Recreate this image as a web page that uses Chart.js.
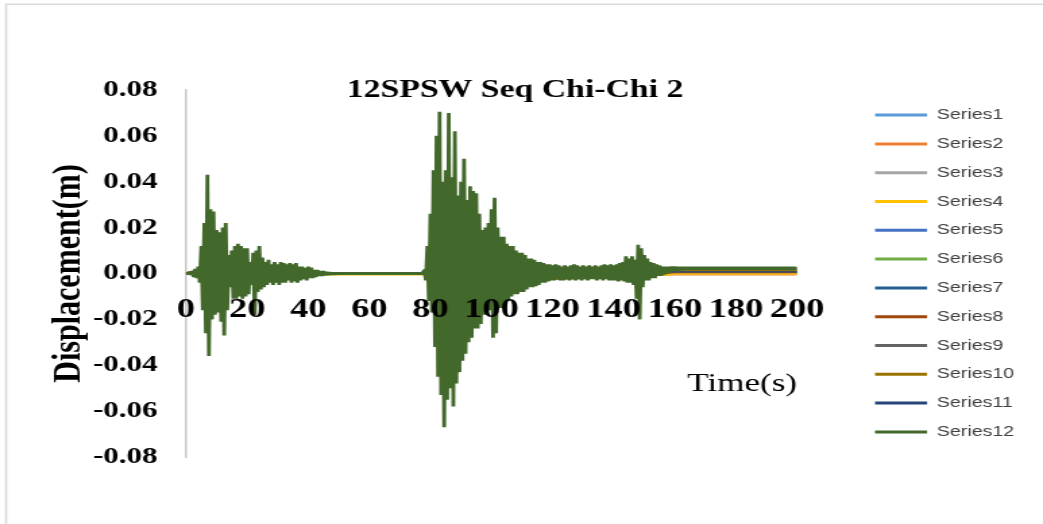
<!DOCTYPE html>
<html>
<head>
<meta charset="utf-8">
<script src="https://cdn.jsdelivr.net/npm/chart.js@4.4.1/dist/chart.umd.min.js"></script>
<style>
html, body { margin: 0; padding: 0; background: #ffffff; overflow: hidden; }
</style>
</head>
<body>
<canvas id="chart" width="773" height="524" style="width:1043px;height:524px;display:block"></canvas>
<script>
// ---------------- data ----------------
const chartTitle = '12SPSW Seq Chi-Chi 2';
const xTitle = 'Time(s)';
const yTitle = 'Displacement(m)';

const seriesNames = ['Series1','Series2','Series3','Series4','Series5','Series6',
                     'Series7','Series8','Series9','Series10','Series11','Series12'];
const seriesColors = ['#5B9BD5','#ED7D31','#A5A5A5','#FFC000','#4472C4','#70AD47',
                      '#255E91','#9E480E','#636363','#997300','#264478','#43682B'];

const xTicks = { min: 0, max: 200, step: 20 };
const yTicks = { min: -0.08, max: 0.08, step: 0.02 };

// Series12 (top floor) – displacement peaks every 0.5 s
const timeStep12 = 0.5;
const disp12 = [
  // 0 - 4.5 s
  0, 0, 0.0005, -0.0005, 0.001, -0.0015, 0.002, -0.002, 0.003, -0.004,
  // 5 - 9.5 s
  0.012, -0.016, 0.022, -0.026, 0.043, -0.036, 0.028, -0.020, 0.027, -0.018,
  // 10 - 14.5 s
  0.019, -0.017, 0.018, -0.021, 0.020, -0.027, 0.022, -0.016, 0.008, -0.006,
  // 15 - 19.5 s
  0.010, -0.011, 0.012, -0.011, 0.013, -0.010, 0.012, -0.011, 0.011, -0.010,
  // 20 - 24.5 s
  0.011, -0.009, 0.005, -0.005, 0.009, -0.018, 0.010, -0.008, 0.012, -0.007,
  // 25 - 29.5 s
  0.007, -0.006, 0.005, -0.005, 0.006, -0.004, 0.004, -0.005, 0.005, -0.004,
  // 30 - 34.5 s
  0.004, -0.005, 0.005, -0.004, 0.0045, -0.004, 0.004, -0.003, 0.0045, -0.004,
  // 35 - 39.5 s
  0.004, -0.0035, 0.0045, -0.004, 0.003, -0.003, 0.003, -0.0025, 0.0025, -0.003,
  // 40 - 44.5 s
  0.003, -0.002, 0.0025, -0.002, 0.0015, -0.0015, 0.0015, -0.001, 0.001, -0.001,
  // 45 - 49.5 s
  0.001, -0.0008, 0.0007, -0.0006, 0.0005, -0.0004, 0.0003, -0.0003, 0.0002, -0.0002,
  // 50 - 74.5 s (at rest)
  0, 0, 0, 0, 0, 0, 0, 0, 0, 0,
  0, 0, 0, 0, 0, 0, 0, 0, 0, 0,
  0, 0, 0, 0, 0, 0, 0, 0, 0, 0,
  0, 0, 0, 0, 0, 0, 0, 0, 0, 0,
  0, 0, 0, 0, 0, 0, 0, 0, 0, 0,
  // 75 - 79.5 s
  0, 0, 0, 0, 0, 0, 0.0015, -0.003, 0.012, -0.012,
  // 80 - 84.5 s
  0.026, -0.017, 0.045, -0.032, 0.060, -0.045, 0.0705, -0.053, 0.040, -0.067,
  // 85 - 89.5 s
  0.045, -0.055, 0.070, -0.050, 0.042, -0.058, 0.062, -0.048, 0.034, -0.043,
  // 90 - 94.5 s
  0.040, -0.038, 0.050, -0.035, 0.032, -0.030, 0.038, -0.028, 0.036, -0.024,
  // 95 - 99.5 s
  0.035, -0.024, 0.026, -0.022, 0.019, -0.018, 0.020, -0.016, 0.022, -0.016,
  // 100 - 104.5 s
  0.028, -0.028, 0.033, -0.026, 0.020, -0.015, 0.016, -0.015, 0.016, -0.014,
  // 105 - 109.5 s
  0.013, -0.012, 0.012, -0.010, 0.012, -0.009, 0.010, -0.009, 0.009, -0.008,
  // 110 - 114.5 s
  0.009, -0.008, 0.008, -0.007, 0.0065, -0.006, 0.0065, -0.006, 0.006, -0.0055,
  // 115 - 119.5 s
  0.005, -0.005, 0.005, -0.004, 0.0045, -0.004, 0.004, -0.0035, 0.004, -0.003,
  // 120 - 124.5 s
  0.0035, -0.003, 0.004, -0.0025, 0.0035, -0.003, 0.003, -0.003, 0.0035, -0.0025,
  // 125 - 129.5 s
  0.003, -0.003, 0.0035, -0.0025, 0.004, -0.003, 0.0035, -0.0025, 0.003, -0.003,
  // 130 - 134.5 s
  0.0035, -0.0025, 0.003, -0.003, 0.0035, -0.0025, 0.003, -0.0025, 0.0035, -0.003,
  // 135 - 139.5 s
  0.003, -0.0025, 0.0035, -0.003, 0.004, -0.0025, 0.0035, -0.003, 0.004, -0.003,
  // 140 - 144.5 s
  0.0035, -0.003, 0.004, -0.0035, 0.0045, -0.003, 0.005, -0.0035, 0.0075, -0.004,
  // 145 - 149.5 s
  0.0065, -0.004, 0.0075, -0.005, 0.006, -0.011, 0.0125, -0.020, 0.011, -0.006,
  // 150 - 154.5 s
  0.008, -0.003, 0.0065, -0.003, 0.005, -0.002, 0.0045, -0.002, 0.004, -0.001,
  // 155 - 159.5 s
  0.0035, -0.001, 0.003, -0.0005, 0.003, 0, 0.003, 0.0005, 0.003, 0.001,
  // 160 - 164.5 s
  0.003, 0.0012, 0.0029, 0.0014, 0.0029, 0.0015, 0.0028, 0.0016, 0.0028, 0.0016,
  // 165 - 199.5 s (residual drift)
  0.0028, 0.0016, 0.0028, 0.0016, 0.0028, 0.0016, 0.0028, 0.0016, 0.0028, 0.0016,
  0.0028, 0.0016, 0.0028, 0.0016, 0.0028, 0.0016, 0.0028, 0.0016, 0.0028, 0.0016,
  0.0028, 0.0016, 0.0028, 0.0016, 0.0028, 0.0016, 0.0028, 0.0016, 0.0028, 0.0016,
  0.0028, 0.0016, 0.0028, 0.0016, 0.0028, 0.0016, 0.0028, 0.0016, 0.0028, 0.0016,
  0.0028, 0.0016, 0.0028, 0.0016, 0.0028, 0.0016, 0.0028, 0.0016, 0.0028, 0.0016,
  0.0028, 0.0016, 0.0028, 0.0016, 0.0028, 0.0016, 0.0028, 0.0016, 0.0028, 0.0016,
  0.0028, 0.0016, 0.0028, 0.0016, 0.0028, 0.0016, 0.0028, 0.0016, 0.0028, 0.0016,
  // 200 s
  0.0028
];

// Lower floors (mostly hidden under Series12) – sparse readings
const timeSparse = [0, 5, 7, 10, 14, 20, 30, 45, 60, 77, 79, 83, 86, 90, 95, 101, 110, 120, 135, 148, 160, 200];
const disp1  = [0, 0.0005, 0.002, -0.001, 0.0005, 0.0005, -0.0003, 0, 0, 0, 0.0005, 0.003, -0.0025, 0.002, -0.001, 0.0015, -0.0005, 0.0005, 0.0003, 0.001, 0.0003, 0.0003];
const disp2  = [0, 0.001, 0.004, -0.002, 0.001, 0.001, -0.0005, 0.0001, 0, 0, 0.001, 0.006, -0.005, 0.004, -0.002, 0.003, -0.001, -0.0012, -0.0015, -0.001, -0.0006, -0.0006];
const disp3  = [0, 0.0015, 0.006, -0.003, 0.001, 0.0015, -0.0008, 0.0002, 0, 0, 0.0015, 0.009, -0.0075, 0.006, -0.003, 0.0045, -0.0015, -0.0005, -0.0008, 0.0005, 0, 0];
const disp4  = [0, -0.001, 0.008, -0.004, 0.0015, 0.002, -0.001, -0.0006, -0.0005, -0.0006, -0.001, 0.012, -0.010, 0.008, -0.004, 0.006, -0.002, -0.0018, -0.002, -0.0015, -0.0002, -0.0002];
const disp5  = [0, 0.001, 0.0095, -0.005, 0.0015, 0.0025, -0.001, 0.0002, 0, 0, 0.0015, 0.015, -0.0125, 0.010, -0.005, 0.0075, -0.0025, 0.0008, 0.0006, 0.0012, 0.0005, 0.0005];
const disp6  = [0, 0.001, 0.011, -0.006, 0.002, 0.003, -0.0012, 0.0002, 0, 0, 0.0015, 0.0175, -0.015, 0.012, -0.006, 0.009, -0.003, 0.001, 0.0008, 0.0015, 0.0008, 0.0008];
const disp7  = [0, 0.0015, 0.013, -0.007, 0.002, 0.0035, -0.0015, 0.0003, 0, 0, 0.002, 0.020, -0.017, 0.014, -0.007, 0.010, -0.003, -0.0015, -0.001, 0.0005, 0.0007, 0.0007];
const disp8  = [0, 0.0015, 0.0145, -0.008, 0.0025, 0.004, -0.0015, 0.0003, 0, 0, 0.002, 0.0225, -0.019, 0.016, -0.008, 0.011, -0.0035, -0.002, -0.0018, -0.001, 0.0004, 0.0004];
const disp9  = [0, 0.0015, 0.016, -0.009, 0.0025, 0.004, -0.0018, 0.0003, 0, 0, 0.002, 0.025, -0.021, 0.018, -0.009, 0.0125, -0.0035, 0.0015, 0.001, 0.002, 0.0009, 0.0009];
const disp10 = [0, 0.002, 0.018, -0.010, 0.003, 0.0045, -0.0018, 0.0003, 0, 0, 0.0025, 0.0275, -0.023, 0.020, -0.0095, 0.0135, -0.004, -0.0025, -0.002, -0.0015, 0.0012, 0.0012];
const disp11 = [0, 0.002, 0.0195, -0.0105, 0.003, 0.005, -0.002, 0.0004, 0, 0, 0.0025, 0.030, -0.025, 0.022, -0.010, 0.0145, -0.004, 0.0018, 0.0015, 0.0025, 0.0007, 0.0007];

// ---------------- chart construction ----------------
const time12 = disp12.map((_, i) => i * timeStep12);
const lowerSeries = [disp1, disp2, disp3, disp4, disp5, disp6, disp7, disp8, disp9, disp10, disp11];

const datasets = seriesNames.map((name, i) => {
  const isTop = i === seriesNames.length - 1;
  const xs = isTop ? time12 : timeSparse;
  const ys = isTop ? disp12 : lowerSeries[i];
  return {
    label: name,
    data: xs.map((t, k) => ({ x: t, y: ys[k] })),
    borderColor: seriesColors[i],
    backgroundColor: seriesColors[i],
    borderWidth: isTop ? 2.8 : 1.4,
    borderJoinStyle: 'bevel',
    pointRadius: 0,
    pointHoverRadius: 0,
    tension: 0,
    fill: false,
    order: seriesNames.length - 1 - i
  };
});

const framePlugin = {
  id: 'frame',
  beforeDraw(chart) {
    const ctx = chart.ctx;
    ctx.save();
    ctx.fillStyle = '#ffffff';
    ctx.fillRect(0, 0, chart.width, chart.height);
    ctx.strokeStyle = '#d9d9d9';
    ctx.lineWidth = 1.6;
    ctx.beginPath();
    ctx.moveTo(4.5, chart.height);
    ctx.lineTo(4.5, 4.3);
    ctx.lineTo(chart.width, 4.3);
    ctx.stroke();
    ctx.restore();
  }
};

const titlePlace = {
  id: 'titlePlace',
  afterLayout(chart) {
    const tb = chart.titleBlock;
    if (!tb) return;
    const cx = 381.7;
    tb.left = cx - 200;
    tb.right = cx + 200;
  }
};

// keep the legend column at a fixed width so the plot area lands where the reference has it
const legendWidthFix = {
  id: 'legendWidthFix',
  afterInit(chart) {
    const lg = chart.legend;
    if (!lg || lg._fixedFit) return;
    const origFit = lg.fit.bind(lg);
    lg.fit = function () { origFit(); this.width = 124; };
    lg._fixedFit = true;
  }
};

Chart.defaults.font.family = "'Liberation Serif', 'Times New Roman', serif";
Chart.defaults.color = '#000000';

new Chart(document.getElementById('chart'), {
  type: 'line',
  data: { datasets },
  plugins: [framePlugin, titlePlace, legendWidthFix],
  options: {
    responsive: false,
    animation: false,
    devicePixelRatio: 1,
    events: [],
    layout: { padding: { left: 33, top: 0, right: 14.8, bottom: 67 } },
    plugins: {
      title: {
        display: true,
        text: chartTitle,
        color: '#000000',
        font: { family: "'Liberation Serif', serif", size: 25, weight: 'bold' },
        padding: { top: 76, bottom: -16 }
      },
      legend: {
        display: true,
        position: 'right',
        fullSize: false,
        align: 'center',
        labels: {
          boxWidth: 38.6,
          boxHeight: 3,
          padding: 14.3,
          color: '#404040',
          font: { family: "'Liberation Sans', Arial, sans-serif", size: 14.5 },
          sort: (a, b) => a.datasetIndex - b.datasetIndex,
          generateLabels(chart) {
            const items = Chart.defaults.plugins.legend.labels.generateLabels(chart);
            items.forEach(it => { it.lineWidth = 0; it.fillStyle = it.strokeStyle; });
            return items;
          }
        }
      },
      tooltip: { enabled: false }
    },
    scales: {
      x: {
        type: 'linear',
        position: { y: 0 },
        min: xTicks.min,
        max: xTicks.max,
        grid: { display: false, drawTicks: false },
        border: { display: false },
        ticks: {
          z: 1,
          stepSize: xTicks.step,
          padding: 20,
          color: '#000000',
          maxRotation: 0,
          autoSkip: false,
          font: { size: 27, weight: 'bold' },
          callback: v => String(v)
        },
        title: {
          display: true,
          text: xTitle,
          align: 'end',
          color: '#000000',
          font: { size: 26, weight: 'normal' },
          padding: { top: 23, bottom: 0 }
        }
      },
      y: {
        type: 'linear',
        position: 'left',
        min: yTicks.min,
        max: yTicks.max,
        grid: { display: false, drawTicks: false },
        border: { display: true, color: '#c8c8c8', width: 1.5 },
        ticks: {
          stepSize: yTicks.step,
          padding: 21,
          color: '#000000',
          autoSkip: false,
          font: { size: 23, weight: 'bold' },
          callback: v => (Math.abs(v) < 1e-9 ? 0 : v).toFixed(2)
        },
        title: {
          display: true,
          text: yTitle,
          color: '#000000',
          font: { size: 30, weight: 'bold' },
          padding: { top: 0, bottom: 0 }
        },
        afterFit(scale) { scale.width = 104.85; }
      },
      spacer: {
        type: 'linear',
        position: 'right',
        display: true,
        grid: { display: false, drawTicks: false },
        border: { display: false },
        ticks: { display: false },
        afterFit(scale) { scale.width = 43.5; }
      }
    }
  }
});
</script>
</body>
</html>
